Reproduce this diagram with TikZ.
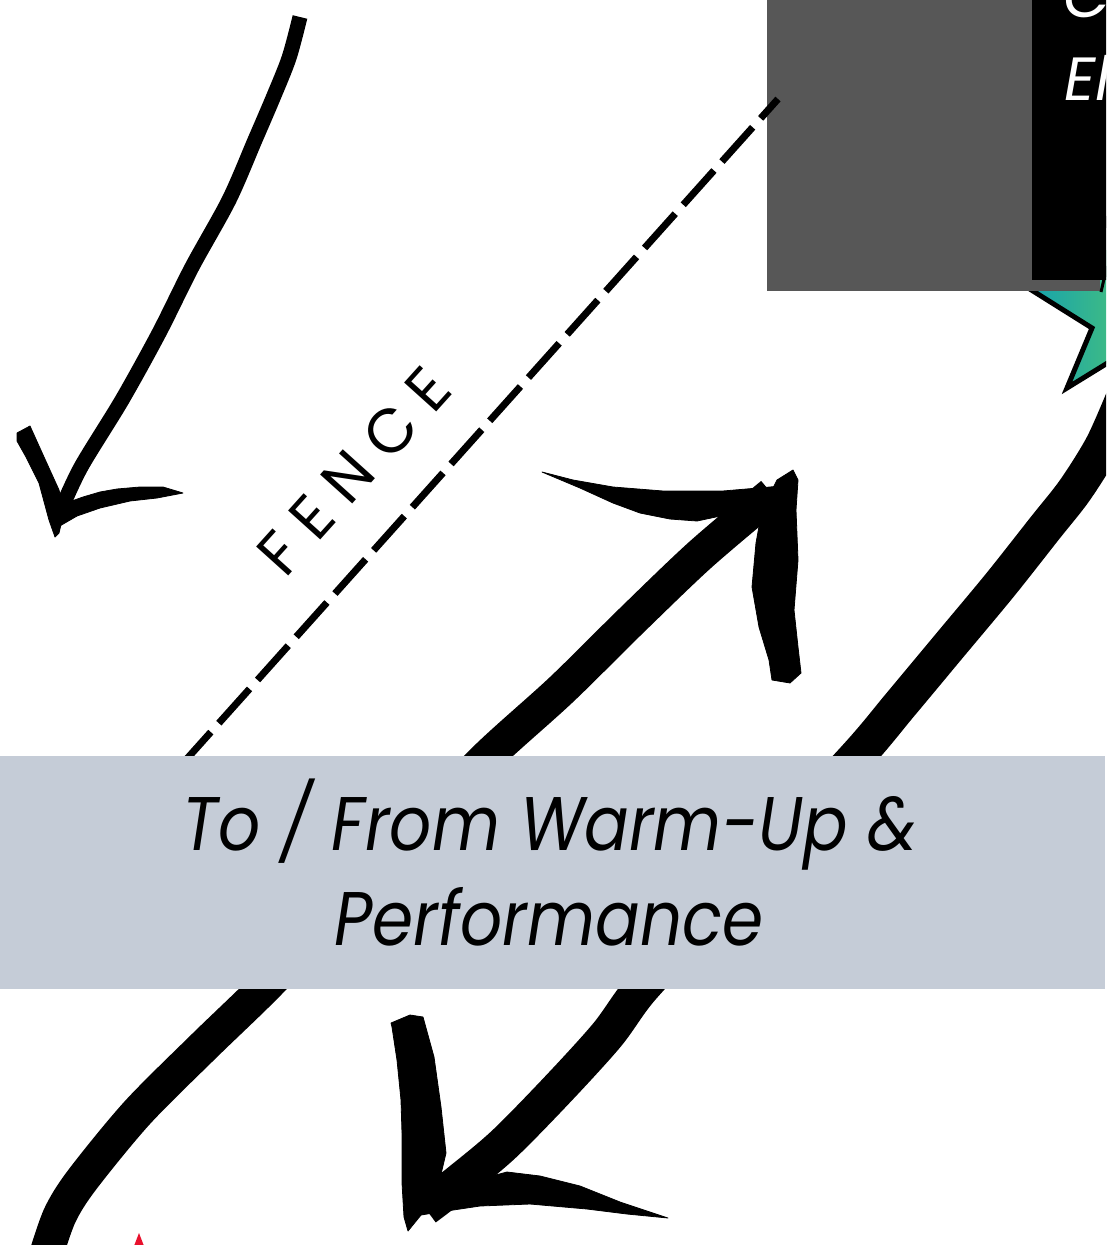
\documentclass[tikz,border=0pt]{standalone}
\usepackage{fontspec}
\setmainfont{Poppins}
\usetikzlibrary{calc}
\definecolor{rectgray}{HTML}{575757}
\definecolor{bandblue}{HTML}{C5CCD7}
\definecolor{starL}{HTML}{17A3AD}
\definecolor{starR}{HTML}{3DBA86}
\definecolor{flagred}{HTML}{E8112D}
\tikzset{
  brush/.style={draw=black, line width=#1, line cap=butt, line join=round},
  inkfill/.style={fill=black, draw=black, line width=0.8pt, line join=round},
  fencelabel/.style={inner sep=0pt, rotate=48, font=\fontsize{62}{62}\selectfont\addfontfeature{LetterSpace=27}},
  bandtext/.style={inner sep=0pt, anchor=base, font=\itshape\fontsize{76}{95}\selectfont},
  boxtext/.style={inner sep=0pt, anchor=base west, text=white, font=\itshape\fontsize{61}{61}\selectfont}
}
\begin{document}
\begin{tikzpicture}[x=1pt,y=-1pt]
\useasboundingbox (0,0) rectangle (1106,1245);
\clip (0,0) rectangle (1106,1245);
\fill[white] (0,0) rectangle (1106,1245);

% star (mostly outside the picture)
\begin{scope}
  \clip (974,254) -- (1092,328) -- (1067,388) -- (1140,343) -- (1215,395) -- (1195,300) -- (1260,240) -- (1170,230) -- (1140,150) -- (1100,235) -- cycle;
  \shade[left color=starL, right color=starR] (1030,250) rectangle (1110,400);
\end{scope}
\draw[line width=5pt, line join=miter] (974,254) -- (1092,328) -- (1067,388) -- (1140,343) -- (1215,395) -- (1195,300) -- (1260,240) -- (1170,230) -- (1140,150) -- (1100,235) -- cycle;

% grey block and black box
\fill[rectgray] (767,0) rectangle (1100,291);
\fill[black] (1032,0) rectangle (1110,280);
\draw[line width=3pt] (1101,292) -- (1107,266);
\node[boxtext] (boxC) at (1063,17) {C};
\node[boxtext] (boxE) at (1064,100) {El};

% fence
\coordinate (fenceTop) at (778,99);
\coordinate (fenceBot) at (150,800);
\draw[line width=7pt, dash pattern=on 46pt off 12pt, dash phase=20pt] (fenceTop) -- (fenceBot);
\node[fencelabel] (fence) at (354,471) {FENCE};

% arrow A (top left, pointing down-left)
\coordinate (aStart) at (300,17);
\coordinate (aTip) at (60,512);
\draw[brush=15pt] plot[smooth] coordinates {(aStart) (289,58) (273,98) (255,140) (229,200) (192,267) (159,333) (122,400) (81,467) (aTip)};
\filldraw[inkfill] (17,433) -- (30,426) -- (44,457) -- (59,490) -- (64,512) -- (59,533) -- (55,537) -- (49,520) -- (39,483) -- (26,457) -- (17,441) -- cycle;
\filldraw[inkfill] (58,506) -- (83,497) -- (100,492) -- (117,489) -- (140,487) -- (163,487) -- (183,493) -- (157,498) -- (130,501) -- (100,508) -- (77,516) -- (58,527) -- cycle;

% arrow B (pointing up-right)
\coordinate (bStart) at (46,1255);
\coordinate (bTip) at (772,494);
\draw[brush=34pt] plot[smooth] coordinates {(bStart) (60,1215) (82,1180) (137,1113) (203,1047) (262,990) (330,920) (420,826) (488,756) (561,690) (630,622) (700,555) (bTip)};
\filldraw[inkfill] (542,472) -- (573,480) -- (613,487) -- (663,491) -- (723,491) -- (770,487) -- (790,485) -- (780,506) -- (730,514) -- (697,521) -- (670,519) -- (640,513) -- (613,503) -- (580,488) -- cycle;
\filldraw[inkfill] (793,470) -- (777,480) -- (762,510) -- (756,543) -- (752,587) -- (759,627) -- (769,660) -- (772,680) -- (790,683) -- (801,673) -- (798,647) -- (794,610) -- (798,560) -- (796,510) -- (798,480) -- cycle;

% arrow C (from star, pointing down-left)
\coordinate (cStart) at (1125,395);
\coordinate (cTip) at (425,1208);
\draw[brush=36pt] plot[smooth] coordinates {(cStart) (1103,445) (1075,490) (1045,528) (1000,585) (950,645) (900,705) (858,755) (760,860) (700,925) (640,990) (607,1035) (557,1090) (503,1145) (455,1185) (cTip)};
\filldraw[inkfill] (391,1023) -- (410,1015) -- (423,1017) -- (434,1057) -- (441,1107) -- (446,1153) -- (438,1187) -- (421,1215) -- (408,1231) -- (404,1217) -- (402,1183) -- (402,1133) -- (401,1100) -- (397,1060) -- (392,1027) -- cycle;
\filldraw[inkfill] (420,1199) -- (473,1181) -- (507,1172) -- (540,1176) -- (580,1186) -- (620,1202) -- (668,1218) -- (627,1214) -- (587,1209) -- (530,1204) -- (480,1206) -- (433,1213) -- (415,1216) -- cycle;

% band
\fill[bandblue] (0,756) rectangle (1105,989);
\node[bandtext] (band1) at (550,850) {\scalebox{0.87}[1]{To / From Warm-Up \&}};
\node[bandtext] (band2) at (549,945) {\scalebox{0.87}[1]{Performance}};

% red marker
\fill[flagred] (134,1246) -- (139,1233) -- (144,1246) -- cycle;
\end{tikzpicture}
\end{document}
